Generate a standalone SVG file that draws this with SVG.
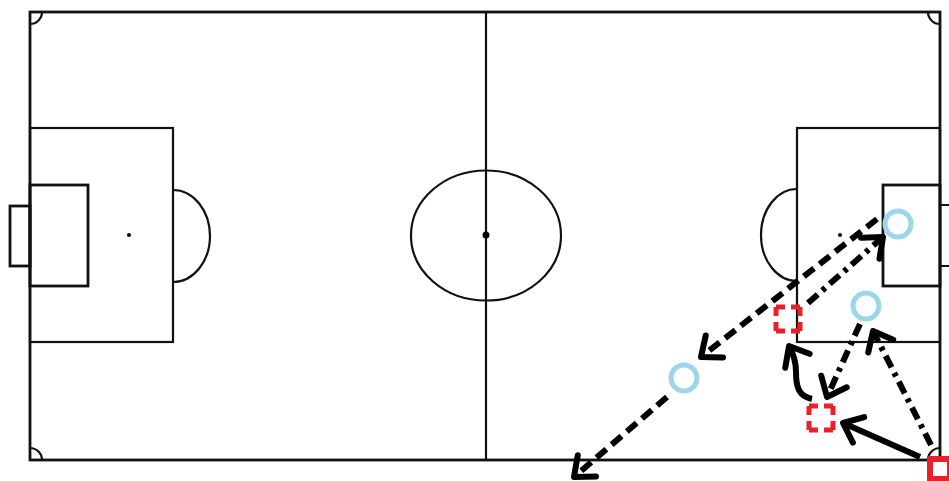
<svg xmlns="http://www.w3.org/2000/svg" width="949" height="481" viewBox="0 0 949 481">
<style>
.ln{fill:none;stroke:#111;stroke-width:2.2}
.bd{fill:none;stroke:#111;stroke-width:2.8}
.pl{fill:none;stroke:#9dd6e8;stroke-width:5}
.opp{fill:none;stroke:#e8202a;stroke-width:5;stroke-dasharray:9 6 9 0}
.opps{fill:none;stroke:#e8202a;stroke-width:6}
.ar{fill:none;stroke:#000;stroke-width:6;marker-end:url(#ah)}
.dash{stroke-dasharray:13 7}
.dd{stroke-dasharray:13 6 4 6}
</style>
<defs>
<marker id="ah" markerUnits="userSpaceOnUse" markerWidth="40" markerHeight="40" viewBox="-25 -20 30 40" refX="0" refY="0" orient="auto">
<path d="M-17,-14 L0,0 L-17,14" fill="none" stroke="#000" stroke-width="6" stroke-linecap="round" stroke-linejoin="round"/>
</marker>
</defs>
<rect width="949" height="481" fill="#fff"/>
<g id="pitch">
<rect class="bd" x="30" y="12" width="910" height="448"/>
<line class="ln" x1="486" y1="12" x2="486" y2="460"/>
<ellipse class="ln" cx="486" cy="235.5" rx="75" ry="65"/>
<circle cx="486" cy="235" r="3.5" fill="#000"/>
<rect class="ln" x="30" y="128" width="143" height="214"/>
<rect class="bd" x="30" y="185" width="58" height="101"/>
<rect class="bd" x="10" y="206" width="20" height="60"/>
<circle cx="129" cy="235" r="2" fill="#000"/>
<path class="ln" d="M173,190 A37,46 0 0 1 173,282"/>
<rect class="ln" x="797" y="128" width="143" height="214"/>
<rect class="bd" x="883" y="185" width="57" height="101"/>
<path class="ln" d="M940,205 H950 M940,266 H950"/>
<circle cx="840" cy="235" r="2" fill="#000"/>
<path class="ln" d="M797,189 A36,46 0 0 0 797,281"/>
<path class="ln" d="M30,24 A12,12 0 0 0 42,12 M30,448 A12,12 0 0 1 42,460 M928,12 A12,12 0 0 0 940,24 M928,460 A12,12 0 0 1 940,448"/>
</g>
<g id="players">
<circle id="p1" class="pl" cx="898" cy="224" r="13"/>
<circle id="p2" class="pl" cx="866" cy="306" r="13"/>
<circle id="p3" class="pl" cx="684" cy="378" r="13"/>
<rect id="o1" class="opp" x="776" y="307" width="24" height="24"/>
<rect id="o2" class="opp" x="809" y="406" width="24" height="24"/>
<rect id="o3" class="opps" x="930" y="459" width="20" height="20"/>
</g>
<g id="connectors">
<line class="ar dash" x1="877" y1="219" x2="701" y2="357"/>
<line class="ar dd" x1="808" y1="303" x2="883" y2="237"/>
<line class="ar dash" x1="667" y1="397" x2="574" y2="477"/>
<line class="ar dd" x1="931" y1="445" x2="873" y2="331"/>
<line class="ar" x1="920" y1="457" x2="843" y2="423"/>
<line class="ar dd" x1="860" y1="324" x2="827" y2="397"/>
<path class="ar" d="M812,399 C798,396 796,386 796,372 C796,362 793,353 789,346"/>
</g>
</svg>
